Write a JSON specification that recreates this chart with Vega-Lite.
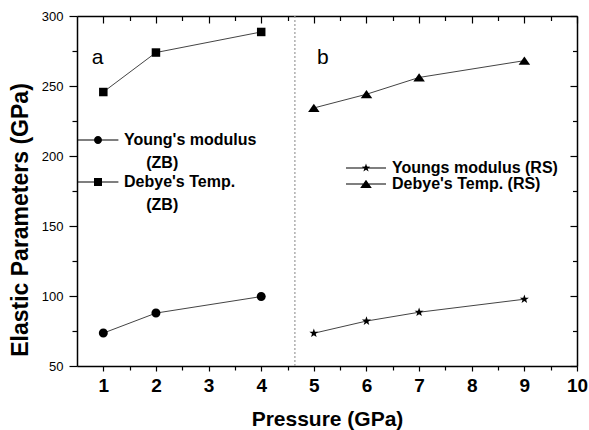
{
  "$schema": "https://vega.github.io/schema/vega-lite/v6.json",
  "width": 500,
  "height": 350,
  "autosize": {"type": "none"},
  "padding": {"left": 77, "top": 16, "right": 12, "bottom": 64},
  "background": "white",
  "config": {"view": {"stroke": null}, "font": "Liberation Sans", "style": {"guide-label": {"lineHeight": 23}}},
  "data": {
    "values": [
      {"pressure": 1, "value": 73.5, "series": "Young's modulus (ZB)", "group": "ZB"},
      {"pressure": 2, "value": 87.8, "series": "Young's modulus (ZB)", "group": "ZB"},
      {"pressure": 4, "value": 99.6, "series": "Young's modulus (ZB)", "group": "ZB"},
      {"pressure": 1, "value": 245.7, "series": "Debye's Temp. (ZB)", "group": "ZB"},
      {"pressure": 2, "value": 273.9, "series": "Debye's Temp. (ZB)", "group": "ZB"},
      {"pressure": 4, "value": 288.6, "series": "Debye's Temp. (ZB)", "group": "ZB"},
      {"pressure": 5, "value": 73.4, "series": "Youngs modulus (RS)", "group": "RS"},
      {"pressure": 6, "value": 82.1, "series": "Youngs modulus (RS)", "group": "RS"},
      {"pressure": 7, "value": 88.4, "series": "Youngs modulus (RS)", "group": "RS"},
      {"pressure": 9, "value": 97.7, "series": "Youngs modulus (RS)", "group": "RS"},
      {"pressure": 5, "value": 234.3, "series": "Debye's Temp. (RS)", "group": "RS"},
      {"pressure": 6, "value": 244.1, "series": "Debye's Temp. (RS)", "group": "RS"},
      {"pressure": 7, "value": 256.1, "series": "Debye's Temp. (RS)", "group": "RS"},
      {"pressure": 9, "value": 268.1, "series": "Debye's Temp. (RS)", "group": "RS"}
    ]
  },
  "resolve": {"scale": {"shape": "independent"}, "axis": {"x": "independent", "y": "independent"}},
  "layer": [
    {
      "data": {"values": [{}]},
      "mark": {"type": "rule", "color": "#9a9a9a", "strokeDash": [2, 2], "strokeWidth": 1.2},
      "encoding": {"x": {"datum": 4.64, "type": "quantitative", "axis": null}}
    },
    {
      "data": {"values": [{}]},
      "mark": {"type": "text", "text": "a", "fontSize": 21, "align": "center", "baseline": "alphabetic", "color": "black", "font": "Liberation Sans"},
      "encoding": {"x": {"datum": 0.89, "type": "quantitative", "axis": null}, "y": {"datum": 266, "type": "quantitative", "axis": null}}
    },
    {
      "data": {"values": [{}]},
      "mark": {"type": "text", "text": "b", "fontSize": 21, "align": "center", "baseline": "alphabetic", "color": "black", "font": "Liberation Sans"},
      "encoding": {"x": {"datum": 5.17, "type": "quantitative", "axis": null}, "y": {"datum": 266, "type": "quantitative", "axis": null}}
    },
    {
      "mark": {"type": "line", "color": "#444444", "strokeWidth": 1},
      "encoding": {
        "x": {
          "field": "pressure", "type": "quantitative",
          "scale": {"domain": [0.5, 10], "nice": false, "zero": false},
          "axis": {
            "orient": "bottom",
            "values": [1, 1.5, 2, 2.5, 3, 3.5, 4, 4.5, 5, 5.5, 6, 6.5, 7, 7.5, 8, 8.5, 9, 9.5, 10],
            "labelExpr": "datum.value % 1 === 0 ? format(datum.value, 'd') : ''",
            "labelFontSize": 19, "labelFontWeight": "bold", "labelColor": "black", "labelPadding": 5,
            "labelOverlap": false, "labelFlush": false, "labelBound": false,
            "tickSize": {"condition": {"test": "datum.value % 1 === 0", "value": 5}, "value": 4},
            "tickColor": "black", "tickWidth": 1.2,
            "domainColor": "black", "domainWidth": 1.5, "grid": false,
            "title": "Pressure (GPa)", "titleFontSize": 21, "titleFontWeight": "bold", "titleColor": "black",
            "titleBaseline": "alphabetic", "titleY": 59
          }
        },
        "y": {
          "field": "value", "type": "quantitative",
          "scale": {"domain": [50, 300], "nice": false, "zero": false},
          "axis": {
            "orient": "left",
            "values": [50, 75, 100, 125, 150, 175, 200, 225, 250, 275, 300],
            "labelExpr": "datum.value % 50 === 0 ? format(datum.value, 'd') : ''",
            "labelFontSize": 13, "labelColor": "black", "labelPadding": 6,
            "labelOverlap": false, "labelFlush": false, "labelBound": false,
            "tickSize": {"condition": {"test": "datum.value % 50 === 0", "value": 8}, "value": 5},
            "tickColor": "black", "tickWidth": 1.2,
            "domainColor": "black", "domainWidth": 1.5, "grid": false,
            "title": "Elastic Parameters (GPa)", "titleFontSize": 23, "titleFontWeight": "bold", "titleColor": "black",
            "titleAngle": 270, "titleAlign": "center", "titleBaseline": "alphabetic", "titleX": -49.5, "titleY": 203.5
          }
        },
        "detail": {"field": "series"}
      }
    },
    {
      "transform": [{"filter": "datum.series == \"Young's modulus (ZB)\""}],
      "mark": {"type": "point", "filled": true, "color": "black", "opacity": 1, "size": 100, "strokeWidth": 0,
               "shape": "M0.9,0A0.9,0.9 0 1 1 -0.9,0A0.9,0.9 0 1 1 0.9,0Z"},
      "encoding": {
        "x": {
          "field": "pressure", "type": "quantitative",
          "axis": {
            "orient": "top",
            "values": [1, 1.5, 2, 2.5, 3, 3.5, 4, 4.5, 5, 5.5, 6, 6.5, 7, 7.5, 8, 8.5, 9, 9.5, 10],
            "labels": false, "title": null,
            "tickSize": {"condition": {"test": "datum.value % 1 === 0", "value": -7}, "value": -4.5},
            "tickColor": "black", "tickWidth": 1.2,
            "domainColor": "black", "domainWidth": 1.5, "grid": false
          }
        },
        "y": {
          "field": "value", "type": "quantitative",
          "axis": {
            "orient": "right",
            "values": [50, 75, 100, 125, 150, 175, 200, 225, 250, 275, 300],
            "labels": false, "title": null,
            "tickSize": {"condition": {"test": "datum.value % 50 === 0", "value": -7}, "value": -4.5},
            "tickColor": "black", "tickWidth": 1.2,
            "domainColor": "black", "domainWidth": 1.5, "grid": false
          }
        }
      }
    },
    {
      "transform": [{"filter": "datum.series == \"Debye's Temp. (ZB)\""}],
      "mark": {"type": "point", "filled": true, "color": "black", "opacity": 1, "size": 100, "strokeWidth": 0,
               "shape": "M-0.85,-0.85H0.85V0.85H-0.85Z"},
      "encoding": {
        "x": {"field": "pressure", "type": "quantitative", "axis": null},
        "y": {"field": "value", "type": "quantitative", "axis": null}
      }
    },
    {
      "transform": [{"filter": "datum.series == 'Youngs modulus (RS)'"}],
      "mark": {"type": "point", "filled": true, "color": "black", "opacity": 1, "size": 100, "strokeWidth": 0,
               "shape": "M0,-0.95L0.223,-0.308L0.903,-0.294L0.361,0.118L0.559,0.769L0,0.38L-0.559,0.769L-0.361,0.118L-0.903,-0.294L-0.223,-0.308Z"},
      "encoding": {
        "x": {"field": "pressure", "type": "quantitative", "axis": null},
        "y": {"field": "value", "type": "quantitative", "axis": null}
      }
    },
    {
      "transform": [{"filter": "datum.series == \"Debye's Temp. (RS)\""}],
      "mark": {"type": "point", "filled": true, "color": "black", "opacity": 1, "size": 100, "strokeWidth": 0,
               "shape": "M0,-0.85L1.15,0.8L-1.15,0.8Z"},
      "encoding": {
        "x": {"field": "pressure", "type": "quantitative", "axis": null},
        "y": {"field": "value", "type": "quantitative", "axis": null}
      }
    },
    {
      "transform": [{"filter": "datum.group == 'ZB'"}],
      "mark": {"type": "point", "filled": true, "color": "black", "strokeWidth": 0, "opacity": 0},
      "encoding": {
        "x": {"field": "pressure", "type": "quantitative", "axis": null},
        "y": {"field": "value", "type": "quantitative", "axis": null},
        "shape": {
          "field": "series", "type": "nominal",
          "scale": {
            "domain": ["Young's modulus (ZB)", "Debye's Temp. (ZB)"],
            "range": [
              "M-5.1,-0.12H5.1V0.12H-5.1ZM1,0A1,1 0 1 1 -1,0A1,1 0 1 1 1,0Z",
              "M-5.1,-0.12H5.1V0.12H-5.1ZM-1,-1H1V1H-1Z"
            ]
          },
          "legend": {
            "orient": "none", "legendX": 0, "legendY": 116, "padding": 0, "title": null,
            "symbolSize": 64, "symbolOpacity": 1, "symbolFillColor": "black", "symbolStrokeWidth": 0,
            "symbolOffset": 13, "labelOffset": 18, "rowPadding": 3,
            "labelFont": "Liberation Sans", "labelFontSize": 16, "labelFontWeight": "bold", "labelColor": "black", "labelLimit": 300,
            "labelBaseline": "middle",
            "labelExpr": "datum.label == \"Young's modulus (ZB)\" ? [\"Young's modulus\", \"\u200b\u00a0\u00a0\u00a0\u00a0\u00a0(ZB)\"] : [\"Debye's Temp.\", \"\u200b\u00a0\u00a0\u00a0\u00a0\u00a0(ZB)\"]"
          }
        }
      }
    },
    {
      "transform": [{"filter": "datum.group == 'RS'"}],
      "mark": {"type": "point", "filled": true, "color": "black", "strokeWidth": 0, "opacity": 0},
      "encoding": {
        "x": {"field": "pressure", "type": "quantitative", "axis": null},
        "y": {"field": "value", "type": "quantitative", "axis": null},
        "shape": {
          "field": "series", "type": "nominal",
          "scale": {
            "domain": ["Youngs modulus (RS)", "Debye's Temp. (RS)"],
            "range": [
              "M-5,-0.12H5V0.12H-5ZM0,-1.1L0.259,-0.356L1.046,-0.34L0.418,0.136L0.647,0.89L0,0.44L-0.647,0.89L-0.418,0.136L-1.046,-0.34L-0.259,-0.356Z",
              "M-5,-0.12H5V0.12H-5ZM0,-1.05L1.45,1L-1.45,1Z"
            ]
          },
          "legend": {
            "orient": "none", "legendX": 268, "legendY": 144, "padding": 0, "title": null,
            "symbolSize": 64, "symbolOpacity": 1, "symbolFillColor": "black", "symbolStrokeWidth": 0,
            "symbolOffset": 13, "labelOffset": 18, "rowPadding": 0,
            "labelFont": "Liberation Sans", "labelFontSize": 16, "labelFontWeight": "bold", "labelColor": "black", "labelLimit": 300,
            "labelBaseline": "middle"
          }
        }
      }
    }
  ]
}
